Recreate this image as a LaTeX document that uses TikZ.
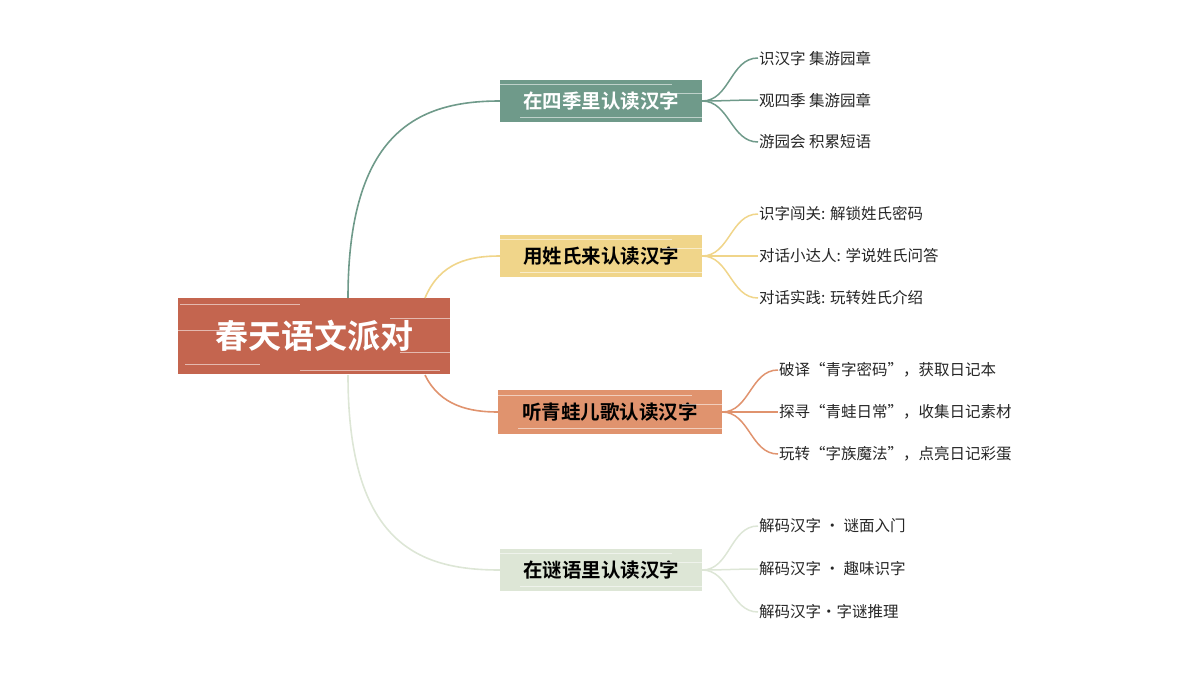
\documentclass[tikz,border=0pt]{standalone}
\usepackage{fontspec}
\setmainfont{Noto Sans CJK SC}
\newfontfamily\boldcjk{Noto Sans CJK SC Bold}
\definecolor{cRoot}{HTML}{C4654F}
\definecolor{cG}{HTML}{6F9A8A}
\definecolor{cY}{HTML}{F0D58A}
\definecolor{cO}{HTML}{E0936E}
\definecolor{cP}{HTML}{DDE6D6}
\begin{document}
\begin{tikzpicture}[x=1pt,y=-1pt,
  br/.style={minimum height=42pt,inner sep=0pt,font=\boldcjk\fontsize{19.5}{22}\selectfont},
  leaf/.style={anchor=west,inner sep=1pt,font=\fontsize{15.5}{18}\selectfont,text=black!85},
  streak/.style={white,line width=0.6pt,opacity=0.55}]
\useasboundingbox (0,0) rectangle (1200,675);
% root
\node[fill=cRoot,minimum width=272pt,minimum height=76pt,inner sep=0pt,text=white,font=\boldcjk\fontsize{33}{36}\selectfont] (root) at (314,336) {春天语文派对};
\foreach \yy/\a/\b in {304/180/300,318/390/450,330/178/240,352/400/450,364/185/260,370/300/440}
  \draw[streak] (\a,\yy) -- (\b,\yy);
% branches
\node[br,fill=cG,minimum width=202pt,text=white] (b1) at (601,101) {在四季里认读汉字};
\node[br,fill=cY,minimum width=202pt] (b2) at (601,256) {用姓氏来认读汉字};
\node[br,fill=cO,minimum width=224pt,minimum height=44pt] (b3) at (610,412) {听青蛙儿歌认读汉字};
\node[br,fill=cP,minimum width=202pt] (b4) at (601,570) {在谜语里认读汉字};
\foreach \c/\x/\w in {101/500/702,256/500/702,412/498/722,570/500/702}{
  \draw[streak] (\x,\c-17) -- (\w-30,\c-17);
  \draw[streak] (\x+20,\c+16) -- (\w,\c+16);
  \draw[streak] (\w-40,\c-8) -- (\w,\c-8);
}
% root connectors
\draw[cG,line width=1.6pt] (348,298) .. controls (348,130) and (420,101) .. (b1.west);
\draw[cY,line width=1.6pt] (425,298) .. controls (440,262) and (470,256) .. (b2.west);
\draw[cO,line width=1.6pt] (425,375) .. controls (440,406) and (470,412) .. (b3.west);
\draw[cP,line width=1.6pt] (348,375) .. controls (348,545) and (420,570) .. (b4.west);
% leaves
\node[leaf] (l11) at (758,58) {识汉字 集游园章};
\node[leaf] (l12) at (758,100) {观四季 集游园章};
\node[leaf] (l13) at (758,142) {游园会 积累短语};
\node[leaf] (l21) at (758,214) {识字闯关: 解锁姓氏密码};
\node[leaf] (l22) at (758,256) {对话小达人: 学说姓氏问答};
\node[leaf] (l23) at (758,298) {对话实践: 玩转姓氏介绍};
\node[leaf] (l31) at (778,370) {破译“青字密码”，获取日记本};
\node[leaf] (l32) at (778,412) {探寻“青蛙日常”，收集日记素材};
\node[leaf] (l33) at (778,454) {玩转“字族魔法”，点亮日记彩蛋};
\node[leaf] (l41) at (758,526) {解码汉字 · 谜面入门};
\node[leaf] (l42) at (758,569) {解码汉字 · 趣味识字};
\node[leaf] (l43) at (758,612) {解码汉字·字谜推理};
\foreach \b/\col/\p in {b1/cG/l1,b2/cY/l2,b3/cO/l3,b4/cP/l4}
  \foreach \i in {1,2,3}
    \draw[\col,line width=1.5pt] (\b.east) to[out=0,in=180] (\p\i.west);
\end{tikzpicture}
\end{document}
